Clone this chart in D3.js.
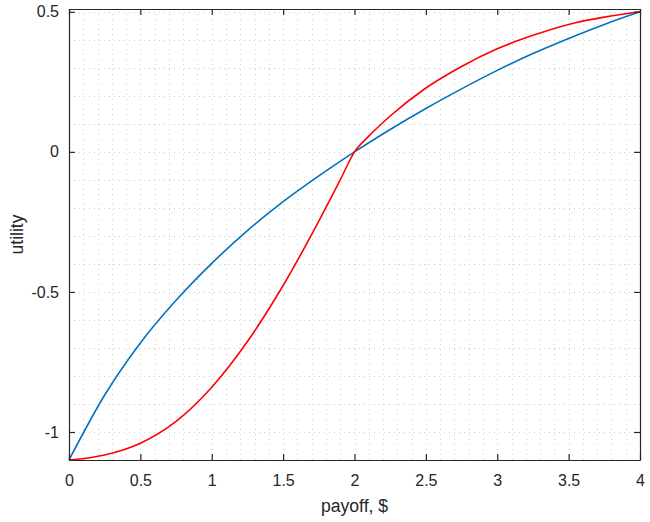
<!DOCTYPE html>
<html>
<head>
<meta charset="utf-8">
<script src="https://cdn.jsdelivr.net/npm/d3@7"></script>
<style>
  body { margin: 0; background: #fff; }
  svg { font-family: "Liberation Sans", Arial, sans-serif; }
</style>
</head>
<body>
<svg id="chart" width="650" height="522"></svg>
<script>
// payoff values (x) and the two utility curves
const bluePayoff = [0, 0.25, 0.5, 0.75, 1, 1.25, 1.5, 1.75, 2, 2.25, 2.5, 2.75, 3, 3.25, 3.5, 3.75, 4]
const blueUtility = [-1.1, -0.868, -0.682, -0.53, -0.398, -0.281, -0.178, -0.086, 0, 0.08, 0.155, 0.225, 0.291, 0.351, 0.405, 0.455, 0.5]

const redPayoff = [0, 0.25, 0.5, 0.75, 1, 1.25, 1.5, 1.75, 1.9, 2, 2.1, 2.25, 2.5, 2.75, 3, 3.25, 3.5, 3.75, 4]
const redUtility = [-1.1, -1.082, -1.04, -0.962, -0.84, -0.677, -0.477, -0.247, -0.1, 0, 0.056, 0.128, 0.228, 0.305, 0.368, 0.416, 0.455, 0.481, 0.5]

const xTicks = [0, 0.5, 1, 1.5, 2, 2.5, 3, 3.5, 4]
const xTickLabels = ['0', '0.5', '1', '1.5', '2', '2.5', '3', '3.5', '4']
const yTicks = [-1, -0.5, 0, 0.5]
const yTickLabels = ['-1', '-0.5', '0', '0.5']

const margin = { top: 9, right: 10, bottom: 62, left: 69 }
const width = 650 - margin.left - margin.right
const height = 522 - margin.top - margin.bottom

const svg = d3.select('#chart')
const g = svg.append('g').attr('transform', 'translate(' + margin.left + ',' + margin.top + ')')

const x = d3.scaleLinear().domain([0, 4]).range([0, width])
const y = d3.scaleLinear().domain([-1.1, 0.51]).range([height, 0])

// dotted minor grid every 0.1
const xMinor = d3.range(0, 40.5).map(i => i / 10)
const yMinor = d3.range(-11, 5.5).map(i => i / 10)

const grid = g.append('g').attr('class', 'grid')

grid.selectAll('line.vx')
    .data(xMinor)
    .join('line')
    .attr('class', 'vx')
    .attr('x1', d => Math.round(x(d)) + 0.5).attr('x2', d => Math.round(x(d)) + 0.5)
    .attr('y1', 0).attr('y2', height)

grid.selectAll('line.hy')
    .data(yMinor)
    .join('line')
    .attr('class', 'hy')
    .attr('x1', 0).attr('x2', width)
    .attr('y1', d => Math.round(y(d)) + 0.5).attr('y2', d => Math.round(y(d)) + 0.5)

grid.selectAll('line')
    .attr('stroke', '#cdcdcd')
    .attr('stroke-width', 1)
    .attr('stroke-dasharray', '1,4')

// curves
function drawCurve(xs, ys, color) {
    const line = d3.line()
        .x((d, i) => x(xs[i]))
        .y(d => y(d))
        .curve(d3.curveMonotoneX)

    g.append('path')
        .datum(ys)
        .attr('d', line)
        .attr('fill', 'none')
        .attr('stroke', color)
        .attr('stroke-width', 1.6)
}

drawCurve(bluePayoff, blueUtility, '#0072BD')
drawCurve(redPayoff, redUtility, '#FF0000')

// axes, ticks pointing inwards on all four sides
const fmtX = d => xTickLabels[xTicks.indexOf(d)]
const fmtY = d => yTickLabels[yTicks.indexOf(d)]

g.append('g')
    .attr('class', 'x axis')
    .attr('transform', 'translate(0,' + height + ')')
    .call(d3.axisBottom(x).tickValues(xTicks).tickFormat(fmtX).tickSizeInner(-6).tickSizeOuter(0).tickPadding(15))

g.append('g')
    .attr('class', 'x axis top')
    .call(d3.axisTop(x).tickValues(xTicks).tickFormat('').tickSizeInner(-6).tickSizeOuter(0))

g.append('g')
    .attr('class', 'y axis')
    .call(d3.axisLeft(y).tickValues(yTicks).tickFormat(fmtY).tickSizeInner(-6).tickSizeOuter(0).tickPadding(10))

g.append('g')
    .attr('class', 'y axis right')
    .attr('transform', 'translate(' + width + ',0)')
    .call(d3.axisRight(y).tickValues(yTicks).tickFormat('').tickSizeInner(-6).tickSizeOuter(0))

g.selectAll('.axis path').attr('stroke', '#262626').attr('stroke-width', 1.2)
g.selectAll('.axis .tick line').attr('stroke', '#262626').attr('stroke-width', 1.2)
g.selectAll('.axis .tick text')
    .attr('fill', '#262626')
    .attr('font-size', 16)
    .attr('font-family', '"Liberation Sans", Arial, sans-serif')

// axis labels
svg.append('text')
    .text('payoff, $')
    .attr('x', margin.left + width / 2)
    .attr('y', 512)
    .attr('text-anchor', 'middle')
    .attr('font-size', 17.6)
    .attr('fill', '#262626')

svg.append('text')
    .text('utility')
    .attr('transform', 'translate(23,' + (margin.top + height / 2) + ') rotate(-90)')
    .attr('text-anchor', 'middle')
    .attr('font-size', 17.6)
    .attr('fill', '#262626')
</script>
</body>
</html>
